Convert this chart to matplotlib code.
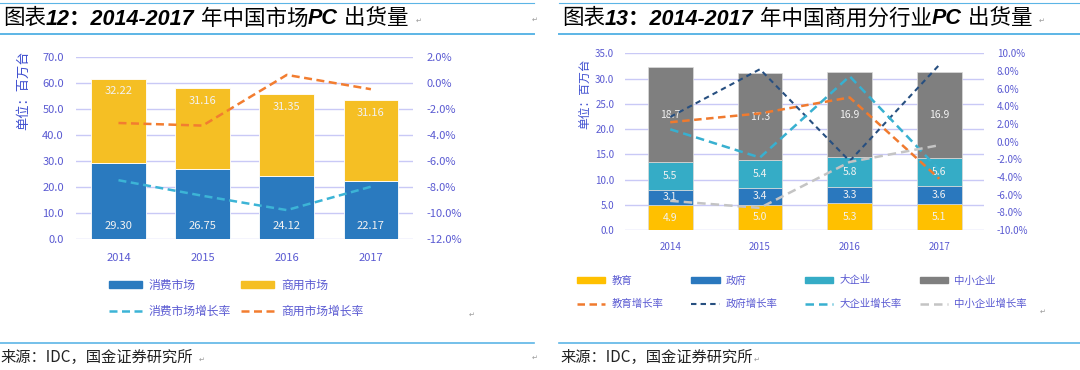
import matplotlib
matplotlib.use('Agg')
import matplotlib.pyplot as plt
import matplotlib.ticker as mticker
from matplotlib.patches import Patch

plt.rcParams['font.family'] = ['Noto Sans CJK SC', 'DejaVu Sans']

# ---- data: chart 12 (China PC market) ----
years = ['2014', '2015', '2016', '2017']
consumer = [29.30, 26.75, 24.12, 22.17]
business = [32.22, 31.16, 31.35, 31.16]
consumer_growth = [-7.5, -8.7, -9.8, -8.0]
business_growth = [-3.1, -3.3, 0.6, -0.5]

# ---- data: chart 13 (commercial PC by sector) ----
edu = [4.9, 5.0, 5.3, 5.1]
gov = [3.1, 3.4, 3.3, 3.6]
big = [5.5, 5.4, 5.8, 5.6]
smb = [18.7, 17.3, 16.9, 16.9]
edu_growth = [2.2, 3.2, 5.0, -4.2]
gov_growth = [2.8, 8.2, -2.2, 8.7]
big_growth = [1.4, -1.8, 7.4, -3.2]
smb_growth = [-6.7, -7.5, -2.3, -0.4]

W, H = 1080, 370
tick_c = '#5a5ad2'
grid_c = '#c9c9f6'
label_c = '#f2f2f2'
line_c = '#5cb5e6'


def box(x0, y0, x1, y1):
    return [x0 / W, 1 - y1 / H, (x1 - x0) / W, (y1 - y0) / H]


def fx(x):
    return x / W


def fy(y):
    return 1 - y / H


fig = plt.figure(figsize=(W / 100, H / 100), dpi=100)
bg = fig.add_axes([0, 0, 1, 1])
bg.set_xlim(0, W)
bg.set_ylim(H, 0)
bg.axis('off')


def style_axes(ax, ax2, ymax, ystep, gmin, gmax, gstep, fs, lpad, rpad, xpad):
    ax.set_xlim(-0.5, 3.5)
    ax.set_ylim(0, ymax)
    ax.set_yticks([i * ystep for i in range(int(round(ymax / ystep)) + 1)])
    ax.yaxis.set_major_formatter(mticker.FormatStrFormatter('%.1f'))
    ax.yaxis.grid(True, color=grid_c, lw=1.0)
    ax.set_axisbelow(True)
    ax.tick_params(axis='y', length=0, pad=lpad, labelsize=fs, colors=tick_c)
    ax.tick_params(axis='x', length=0, pad=xpad, labelsize=fs, colors=tick_c)
    n = int(round((gmax - gmin) / gstep))
    ax2.set_ylim(gmin, gmax)
    ax2.set_yticks([gmin + i * gstep for i in range(n + 1)])
    ax2.yaxis.set_major_formatter(mticker.FuncFormatter(lambda v, p: f'{v:.1f}%'))
    ax2.tick_params(axis='y', length=0, pad=rpad, labelsize=fs, colors=tick_c)
    for a in (ax, ax2):
        for s in a.spines.values():
            s.set_visible(False)


# ================= chart 12 =================
ax = fig.add_axes(box(76.4, 56.7, 413, 238.7))
ax2 = ax.twinx()
x = range(len(years))
b1 = ax.bar(x, consumer, width=0.65, color='#2a7abf', edgecolor='white', lw=0.6)
b2 = ax.bar(x, business, width=0.65, bottom=consumer, color='#f5bf24',
            edgecolor='white', lw=0.6)
ax.set_xticks(list(x))
ax.set_xticklabels(years)
for i in x:
    ax.annotate(f'{consumer[i]:.2f}', (i, 0), xytext=(0, 9.5), textcoords='offset points',
                ha='center', va='center', color=label_c, fontsize=8)
    ax.annotate(f'{business[i]:.2f}', (i, consumer[i] + business[i]), xytext=(0, -9),
                textcoords='offset points', ha='center', va='center', color=label_c, fontsize=8)
l1, = ax2.plot(x, consumer_growth, color='#3cb4d6', lw=1.8, dashes=(3.2, 1.8))
l2, = ax2.plot(x, business_growth, color='#f27d30', lw=1.8, dashes=(3.2, 1.8))
style_axes(ax, ax2, 70, 10, -12, 2, 2, 8, 9, 10, 10.5)

# ================= chart 13 =================
bx = fig.add_axes(box(625.4, 53.3, 984.2, 230))
bx2 = bx.twinx()
stacks = [(edu, '#ffc000'), (gov, '#2a78be'), (big, '#35acc6'), (smb, '#7f7f7f')]
base = [0, 0, 0, 0]
for vals, col in stacks:
    bx.bar(x, vals, width=0.5, bottom=base, color=col, edgecolor='#dcdcdc', lw=0.5)
    for i in x:
        bx.text(i, base[i] + vals[i] / 2, f'{vals[i]:.1f}', ha='center', va='center',
                color=label_c, fontsize=7.5)
    base = [base[i] + vals[i] for i in x]
bx.set_xticks(list(x))
bx.set_xticklabels(years)
growth13 = [(edu_growth, '#f07a2e', 1.8, (3.0, 1.8)),
            (gov_growth, '#274f80', 1.5, (2.6, 2.0)),
            (big_growth, '#38b0d0', 1.8, (3.4, 2.0)),
            (smb_growth, '#c4c4c4', 1.8, (3.4, 2.0))]
lines13 = []
for g, col, lw, d in growth13:
    ln, = bx2.plot(x, g, color=col, lw=lw, dashes=d)
    lines13.append(ln)
style_axes(bx, bx2, 35, 5, -10, 10, 2, 7, 8, 9, 9)

# ---- y axis titles ----
fig.text(fx(24), fy(90), '单位：百万台', rotation=90, ha='center', va='center',
         color='#3f4fd0', fontsize=9.5)
fig.text(fx(585), fy(94), '单位：百万台', rotation=90, ha='center', va='center',
         color='#3f4fd0', fontsize=8.5)

# ---- legends ----
leg_kw = dict(loc='upper left', frameon=False, borderpad=0, borderaxespad=0,
              handletextpad=0.6, labelcolor=tick_c, handleheight=0.55)
fig.legend([Patch(color='#2a7abf'), l1], ['消费市场', '消费市场增长率'],
           bbox_to_anchor=(fx(108.6), fy(278.5)), fontsize=8.5, handlelength=2.8,
           labelspacing=1.1, **leg_kw)
fig.legend([Patch(color='#f5bf24'), l2], ['商用市场', '商用市场增长率'],
           bbox_to_anchor=(fx(240.7), fy(278.5)), fontsize=8.5, handlelength=2.8,
           labelspacing=1.1, **leg_kw)

names13 = ['教育', '政府', '大企业', '中小企业']
cols13 = ['#ffc000', '#2a78be', '#35acc6', '#7f7f7f']
xs13 = [577, 691.5, 805, 919.5]
for k in range(4):
    fig.legend([Patch(color=cols13[k]), lines13[k]], [names13[k], names13[k] + '增长率'],
               bbox_to_anchor=(fx(xs13[k]), fy(275.5)), fontsize=7.5, handlelength=2.73,
               labelspacing=1.3, **leg_kw)

# ---- headings ----
tfam = ['Liberation Sans', 'Noto Sans CJK SC']


def heading(x0, y0, parts):
    t = bg.text(x0, y0, parts[0][0], family=tfam, fontsize=15.5, va='bottom', ha='left',
                color='black')
    for s, bold in parts[1:]:
        t = bg.annotate(s, xy=(1, 0), xycoords=t, va='bottom', ha='left', family=tfam,
                        fontsize=15.5, color='black',
                        fontweight='bold' if bold else 'normal',
                        fontstyle='italic' if bold else 'normal')
    return t


heading(3, 29.5, [('图表', False), ('12：2014-2017', True), (' 年中国市场', False),
                  ('PC', True), (' 出货量', False)])
heading(562, 29.5, [('图表', False), ('13：2014-2017', True), (' 年中国商用分行业', False),
                    ('PC', True), (' 出货量', False)])

# rules
for (a, b) in [(0, 534), (559, 1080)]:
    bg.plot([a, b], [2.7, 2.7], color=line_c, lw=0.8)
    bg.plot([a, b], [34.3, 34.3], color=line_c, lw=1.4)
    bg.plot([a, b], [343.3, 343.3], color=line_c, lw=1.2)

# source
bg.text(0, 357, '来源：IDC，国金证券研究所', fontsize=11, va='center', ha='left', color='#222222')
bg.text(560, 357, '来源：IDC，国金证券研究所', fontsize=11, va='center', ha='left', color='#222222')

# paragraph marks
for px, py in [(419, 21), (535, 20), (1042, 21), (472, 315), (1043, 312),
               (202, 360), (535, 358), (757, 360)]:
    bg.text(px, py, '↵', fontsize=5, color='#999999', ha='center', va='center',
            family=['DejaVu Sans'])

fig.savefig('out.png', dpi=100)
